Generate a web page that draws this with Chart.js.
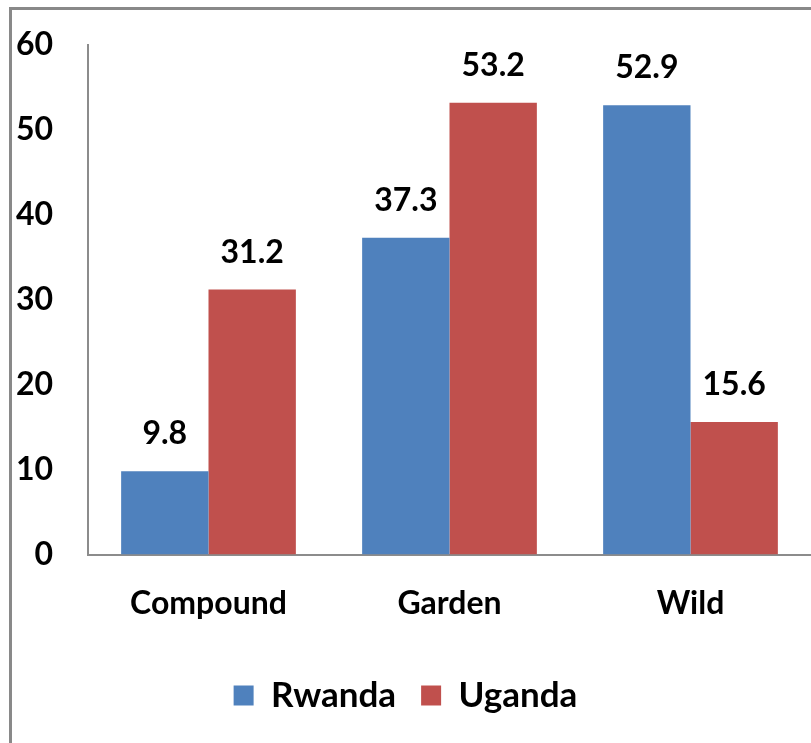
<!DOCTYPE html>
<html>
<head>
<meta charset="utf-8">
<script src="https://cdn.jsdelivr.net/npm/chart.js@4/dist/chart.umd.min.js"></script>
<style>
  html, body { margin: 0; padding: 0; background: #fff; }
  #frame { position: absolute; left: 9px; top: 7px; width: 810px; height: 740px;
           border-left: 3px solid #898989; border-top: 3px solid #898989; }
  #wrap { position: absolute; left: 0; top: 0; width: 811px; height: 743px; }
</style>
</head>
<body>
<div id="frame"></div>
<div id="wrap"><canvas id="chart"></canvas></div>
<script>
const categories = ["Compound", "Garden", "Wild"];
const rwanda = [9.8, 37.3, 52.9];
const uganda = [31.2, 53.2, 15.6];
const yTicks = [0, 10, 20, 30, 40, 50, 60];

const FONT = "Lato, 'DejaVu Sans', sans-serif";
const SIZE = 32;

const valueLabels = {
  id: "valueLabels",
  afterDatasetsDraw(chart) {
    const ctx = chart.ctx;
    ctx.save();
    ctx.font = "bold " + SIZE + "px " + FONT;
    ctx.fillStyle = "#000";
    ctx.textAlign = "center";
    ctx.textBaseline = "alphabetic";
    chart.data.datasets.forEach((ds, i) => {
      chart.getDatasetMeta(i).data.forEach((bar, j) => {
        ctx.fillText(ds.data[j].toFixed(1), bar.x, bar.y - 27);
      });
    });
    ctx.restore();
  }
};

new Chart(document.getElementById("chart"), {
  type: "bar",
  data: {
    labels: categories,
    datasets: [
      { label: "Rwanda", data: rwanda, backgroundColor: "#4f81bd" },
      { label: "Uganda", data: uganda, backgroundColor: "#c0504d" }
    ]
  },
  options: {
    responsive: true,
    maintainAspectRatio: false,
    animation: false,
    datasets: { bar: { categoryPercentage: 0.725, barPercentage: 1.0 } },
    layout: { padding: { top: 45, right: 0, left: 0, bottom: 20 } },
    scales: {
      x: {
        grid: { display: false, drawTicks: false },
        border: { color: "#8c8c8c", width: 2 },
        ticks: { color: "#000", font: { family: FONT, size: SIZE, weight: "bold" }, padding: 30 }
      },
      y: {
        min: 0,
        max: 60,
        afterBuildTicks: axis => { axis.ticks = yTicks.map(v => ({ value: v })); },
        afterFit: axis => {
          axis.width = 88;
          axis.paddingTop = 0;
        },
        grid: { display: false, drawTicks: false },
        border: { color: "#8c8c8c", width: 2 },
        ticks: { color: "#000", font: { family: FONT, size: SIZE, weight: "bold" }, padding: 35 }
      }
    },
    plugins: {
      legend: {
        position: "bottom",
        labels: {
          color: "#000",
          font: { family: FONT, size: 35, weight: "bold" },
          boxWidth: 20,
          boxHeight: 20,
          padding: 25
        }
      },
      tooltip: { enabled: false }
    }
  },
  plugins: [valueLabels]
});
</script>
</body>
</html>
